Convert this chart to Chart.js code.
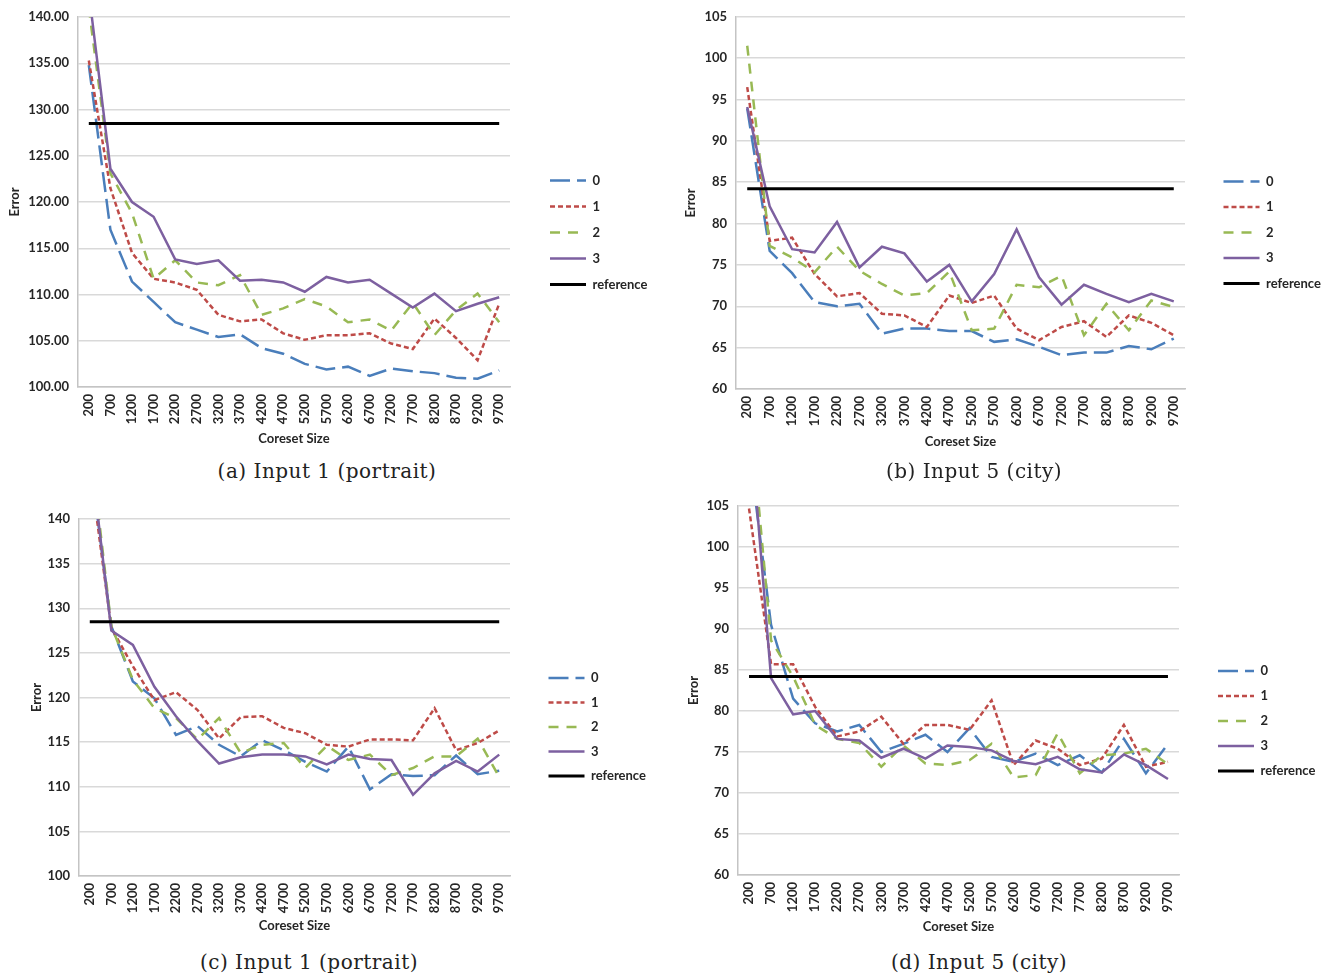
<!DOCTYPE html>
<html>
<head>
<meta charset="utf-8">
<title>Coreset size vs error</title>
<script src="https://cdn.jsdelivr.net/npm/chart.js@4.4.1/dist/chart.umd.min.js"></script>
<style>
    body { margin: 0; background: #fff; width: 1333px; height: 977px; overflow: hidden; position: relative; }
    canvas { position: absolute; }
    .cap { position: absolute; width: 400px; text-align: center; font-family: "DejaVu Serif", serif; font-size: 20px; letter-spacing: 0.5px; color: #222; line-height: 24px; }
</style>
</head>
<body>
<canvas id="chartA" width="676" height="450" style="left:0px;top:0px"></canvas>
<canvas id="chartB" width="650" height="453" style="left:680px;top:0px"></canvas>
<canvas id="chartC" width="676" height="447" style="left:0px;top:490px"></canvas>
<canvas id="chartD" width="645" height="458" style="left:680px;top:480px"></canvas>
<div class="cap" style="left:127px;top:459px">(a) Input 1 (portrait)</div>
<div class="cap" style="left:774px;top:459px">(b) Input 5 (city)</div>
<div class="cap" style="left:109px;top:950px">(c) Input 1 (portrait)</div>
<div class="cap" style="left:779px;top:950px">(d) Input 5 (city)</div>
<script>
const coresetSizes = ['200', '700', '1200', '1700', '2200', '2700', '3200', '3700', '4200', '4700',
    '5200', '5700', '6200', '6700', '7200', '7700', '8200', '8700', '9200', '9700'];
const seriesNames = ['0', '1', '2', '3', 'reference'];

// (a) Input 1 (portrait)
const a0 = [134.8, 117.0, 111.4, 109.2, 107.0, 106.2, 105.4, 105.7, 104.2, 103.6, 102.5, 101.9, 102.2, 101.2, 102.0, 101.7, 101.5, 101.0, 100.9, 101.8];
const a1 = [135.3, 121.5, 114.5, 111.7, 111.3, 110.5, 107.8, 107.1, 107.3, 105.8, 105.1, 105.6, 105.6, 105.8, 104.7, 104.1, 107.4, 105.3, 102.9, 109.0];
const a2 = [141.0, 123.1, 118.8, 111.7, 113.7, 111.3, 111.0, 112.1, 107.8, 108.5, 109.5, 108.7, 107.0, 107.3, 106.1, 109.1, 105.6, 108.3, 110.1, 107.0];
const a3 = [142.7, 123.6, 120.0, 118.4, 113.8, 113.3, 113.7, 111.5, 111.6, 111.3, 110.3, 111.9, 111.3, 111.6, 110.1, 108.6, 110.1, 108.2, 109.0, 109.7];
const aRef = [128.5, 128.5, 128.5, 128.5, 128.5, 128.5, 128.5, 128.5, 128.5, 128.5, 128.5, 128.5, 128.5, 128.5, 128.5, 128.5, 128.5, 128.5, 128.5, 128.5];

// (b) Input 5 (city)
const b0 = [93.9, 76.7, 74.0, 70.5, 70.0, 70.3, 66.7, 67.3, 67.3, 67.0, 67.0, 65.7, 66.0, 65.1, 64.1, 64.4, 64.4, 65.2, 64.8, 66.1];
const b1 = [96.5, 77.9, 78.3, 73.9, 71.2, 71.6, 69.1, 68.9, 67.5, 71.3, 70.4, 71.3, 67.3, 65.9, 67.5, 68.2, 66.3, 68.9, 68.0, 66.5];
const b2 = [101.5, 77.3, 75.9, 74.1, 77.2, 74.3, 72.7, 71.3, 71.6, 74.2, 67.1, 67.3, 72.6, 72.3, 73.7, 66.5, 70.3, 67.1, 70.7, 69.9];
const b3 = [94.1, 82.1, 76.9, 76.5, 80.2, 74.7, 77.2, 76.4, 73.0, 75.0, 70.6, 73.9, 79.3, 73.5, 70.2, 72.6, 71.5, 70.5, 71.5, 70.6];
const bRef = [84.2, 84.2, 84.2, 84.2, 84.2, 84.2, 84.2, 84.2, 84.2, 84.2, 84.2, 84.2, 84.2, 84.2, 84.2, 84.2, 84.2, 84.2, 84.2, 84.2];

// (c) Input 1 (portrait)
const c0 = [147.0, 128.0, 121.8, 119.9, 115.8, 116.8, 114.7, 113.4, 115.2, 114.1, 112.8, 111.7, 114.5, 109.7, 111.4, 111.2, 111.3, 113.5, 111.4, 111.8];
const c1 = [146.0, 127.8, 123.5, 119.7, 120.6, 118.6, 115.4, 117.8, 117.9, 116.6, 116.0, 114.7, 114.5, 115.3, 115.3, 115.2, 118.8, 114.1, 114.9, 116.3];
const c2 = [149.0, 128.0, 122.0, 118.8, 117.7, 115.3, 117.7, 113.8, 114.7, 114.9, 112.1, 114.6, 113.0, 113.6, 111.3, 112.1, 113.4, 113.4, 115.4, 111.1];
const c3 = [148.0, 127.5, 125.9, 121.2, 117.9, 115.1, 112.6, 113.3, 113.6, 113.6, 113.4, 112.5, 113.6, 113.1, 113.0, 109.1, 111.5, 112.9, 111.7, 113.6];
const cRef = [128.5, 128.5, 128.5, 128.5, 128.5, 128.5, 128.5, 128.5, 128.5, 128.5, 128.5, 128.5, 128.5, 128.5, 128.5, 128.5, 128.5, 128.5, 128.5, 128.5];

// (d) Input 5 (city)
const d0 = [112.0, 90.5, 81.5, 78.5, 77.5, 78.3, 75.0, 76.0, 77.1, 75.0, 77.9, 74.4, 73.8, 74.8, 73.4, 74.6, 72.5, 76.6, 72.4, 76.0];
const d1 = [104.7, 85.7, 85.7, 80.5, 76.9, 77.5, 79.3, 76.0, 78.3, 78.3, 77.7, 81.3, 73.4, 76.4, 75.4, 73.4, 74.2, 78.3, 73.2, 73.8];
const d2 = [118.0, 88.6, 84.2, 78.3, 76.6, 76.1, 73.2, 75.8, 73.6, 73.4, 74.0, 76.0, 71.9, 72.2, 77.3, 72.4, 74.6, 74.8, 75.4, 73.5];
const d3 = [116.8, 84.0, 79.6, 80.0, 76.6, 76.4, 74.3, 75.4, 74.2, 75.8, 75.6, 75.2, 73.9, 73.5, 74.4, 72.9, 72.5, 74.7, 73.4, 71.7];
const dRef = [84.2, 84.2, 84.2, 84.2, 84.2, 84.2, 84.2, 84.2, 84.2, 84.2, 84.2, 84.2, 84.2, 84.2, 84.2, 84.2, 84.2, 84.2, 84.2, 84.2];

const COLORS = ['#4a7ebb', '#be4b48', '#98b954', '#7d60a0', '#000000'];
const DASHES = [[20, 7], [5, 3], [10, 8], [], []];
const GRID = '#d9d9d9';
const AXIS = '#c4c4c4';
const TEXT = '#262626';
const FONT = {family: 'Lato, sans-serif', size: 13, weight: 700};

// 强制图例宽度，让绘图区右边位置可控
const legendWidth = {
    id: 'legendWidth',
    beforeUpdate(chart, args, opts) {
        const legend = chart.legend;
        if (!legend || legend._fixedFit) return;
        const fit = legend.fit;
        legend.fit = function () {
            fit.call(this);
            this.width = opts.width;
        };
        legend._fixedFit = true;
    }
};

// 图例用线段样式，虚线取自数据集
function legendLabels(chart) {
    const items = Chart.defaults.plugins.legend.labels.generateLabels(chart);
    items.forEach(item => {
        const ds = chart.data.datasets[item.datasetIndex];
        item.lineDash = ds.borderDash;
        item.lineWidth = ds.borderWidth;
        item.strokeStyle = ds.borderColor;
    });
    return items;
}

function makeDatasets(series) {
    return series.map((data, i) => ({
        label: seriesNames[i],
        data: data,
        borderColor: COLORS[i],
        backgroundColor: COLORS[i],
        borderDash: DASHES[i],
        borderWidth: i === 4 ? 3 : 2.5,
        pointRadius: 0,
        tension: 0,
        fill: false,
        order: 4 - i
    }));
}

function makeChart(id, series, s) {
    const ctx = document.getElementById(id).getContext('2d');
    return new Chart(ctx, {
        type: 'line',
        data: {labels: coresetSizes, datasets: makeDatasets(series)},
        plugins: [legendWidth],
        options: {
            responsive: false,
            animation: false,
            layout: {padding: s.padding},
            scales: {
                x: {
                    offset: true,
                    grid: {display: false, drawTicks: false},
                    border: {color: AXIS, width: 1.5},
                    ticks: {autoSkip: false, minRotation: 90, maxRotation: 90, padding: 7, color: TEXT, font: FONT},
                    title: {display: true, text: 'Coreset Size', color: TEXT, font: FONT, padding: {top: 0, bottom: 1}},
                    afterFit(scale) { scale.height = s.xHeight; }
                },
                y: {
                    min: s.min,
                    max: s.max,
                    grid: {color: GRID, lineWidth: 1.5, drawTicks: false},
                    border: {color: AXIS, width: 1.5},
                    ticks: {stepSize: 5, padding: 9, color: TEXT, font: FONT, callback: v => s.decimals ? v.toFixed(2) : v},
                    title: {display: true, text: 'Error', color: TEXT, font: FONT, padding: {top: 3, bottom: 0}},
                    afterFit(scale) { scale.width = s.yWidth; }
                },
                // 空白轴，只用来隔开绘图区和图例
                gap: {
                    type: 'linear',
                    position: 'right',
                    grid: {display: false, drawTicks: false},
                    border: {display: false},
                    ticks: {display: false},
                    afterFit(scale) { scale.width = s.gap; }
                }
            },
            plugins: {
                legend: {
                    position: 'right',
                    labels: {
                        usePointStyle: true,
                        pointStyle: 'line',
                        pointStyleWidth: 36,
                        padding: s.legendPad,
                        color: TEXT,
                        font: FONT,
                        generateLabels: legendLabels,
                        sort: (a, b) => a.datasetIndex - b.datasetIndex
                    }
                },
                legendWidth: {width: s.legendWidth},
                tooltip: {enabled: false}
            }
        }
    });
}

makeChart('chartA', [a0, a1, a2, a3, aRef], {
    min: 100, max: 140, decimals: true,
    padding: {top: 17, left: 4, right: 0, bottom: 2},
    yWidth: 74, xHeight: 61, gap: 27, legendPad: 13, legendWidth: 139
});
makeChart('chartB', [b0, b1, b2, b3, bRef], {
    min: 60, max: 105, decimals: false,
    padding: {top: 14, left: 0, right: 0, bottom: 2},
    yWidth: 56, xHeight: 62, gap: 26, legendPad: 12.5, legendWidth: 119
});
makeChart('chartC', [c0, c1, c2, c3, cRef], {
    min: 100, max: 140, decimals: false,
    padding: {top: 29, left: 26, right: 0, bottom: 2},
    yWidth: 53, xHeight: 59, gap: 27, legendPad: 11.5, legendWidth: 139
});
makeChart('chartD', [d0, d1, d2, d3, dRef], {
    min: 60, max: 105, decimals: false,
    padding: {top: 26, left: 3, right: 0, bottom: 2},
    yWidth: 55, xHeight: 61, gap: 27, legendPad: 12, legendWidth: 119
});
</script>
</body>
</html>
